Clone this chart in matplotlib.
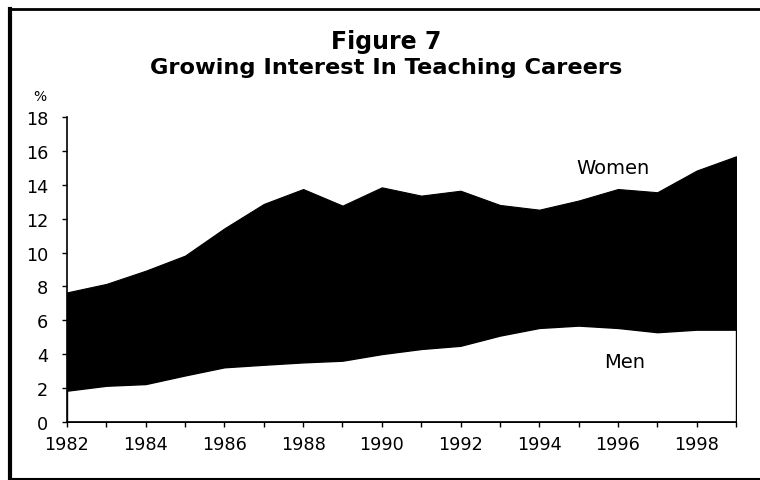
import matplotlib
matplotlib.use("Agg")
import matplotlib.pyplot as plt
from matplotlib.lines import Line2D

years = list(range(1982, 2000))
women = [7.65, 8.15, 8.93, 9.82, 11.43, 12.87, 13.75, 12.77, 13.85, 13.36,
         13.65, 12.81, 12.53, 13.07, 13.75, 13.56, 14.84, 15.68]
men = [1.85, 2.14, 2.24, 2.75, 3.23, 3.38, 3.52, 3.62, 4.01, 4.31,
       4.50, 5.10, 5.55, 5.69, 5.55, 5.30, 5.45, 5.45]
x_tick_labels = [str(y) if y % 2 == 0 and y < 1999 else "" for y in years]
y_ticks = list(range(0, 19, 2))

title1 = "Figure 7"
title2 = "Growing Interest In Teaching Careers"

W, H = 760, 481
fig = plt.figure(figsize=(W / 100, H / 100), dpi=100)
fig.patch.set_facecolor("white")

ax = fig.add_axes([67 / W, (H - 423) / H, (736 - 67) / W, (423 - 118) / H])
ax.fill_between(years, 0, women, facecolor="black", edgecolor="black", linewidth=0.8, zorder=2)
ax.fill_between(years, 0, men, facecolor="white", edgecolor="black", linewidth=1.0, zorder=3)

ax.set_xlim(1982, 1999)
ax.set_ylim(0, 18)
ax.set_xticks(years)
ax.set_xticklabels(x_tick_labels)
ax.set_yticks(y_ticks)
ax.set_yticklabels([str(v) for v in y_ticks])
ax.tick_params(axis="both", direction="out", length=3.6, width=1.0, color="black",
               labelsize=12.7, labelcolor="black")
ax.tick_params(axis="y", pad=10)
ax.tick_params(axis="x", pad=6)
for s in ["top", "right"]:
    ax.spines[s].set_visible(False)
for s in ["left", "bottom"]:
    ax.spines[s].set_color("black")
    ax.spines[s].set_linewidth(1.2)
    ax.spines[s].set_zorder(5)

ax.text(1995.88, 14.7, "Women", fontsize=14, color="black", ha="center", va="baseline", zorder=6)
ax.text(1996.18, 3.25, "Men", fontsize=14, color="black", ha="center", va="baseline", zorder=6)

fig.text(386 / W, 1 - 48.5 / H, title1, fontsize=17, fontweight="bold", ha="center", va="baseline")
fig.text(386 / W, 1 - 74.5 / H, title2, fontsize=16.2, fontweight="bold", ha="center", va="baseline")
fig.text(40 / W, 1 - 97 / H, "%", fontsize=10, ha="center", va="center")

# frame around the figure
fig.add_artist(Line2D([10 / W, 10 / W], [0, 1 - 10 / H], transform=fig.transFigure,
                      color="black", linewidth=3.0))
fig.add_artist(Line2D([10 / W, 1], [1 - 10 / H, 1 - 10 / H], transform=fig.transFigure,
                      color="black", linewidth=2.0))
fig.add_artist(Line2D([10 / W, 1], [1 - 479.5 / H, 1 - 479.5 / H], transform=fig.transFigure,
                      color="black", linewidth=1.5))

fig.savefig("out.png", dpi=100, facecolor="white")
